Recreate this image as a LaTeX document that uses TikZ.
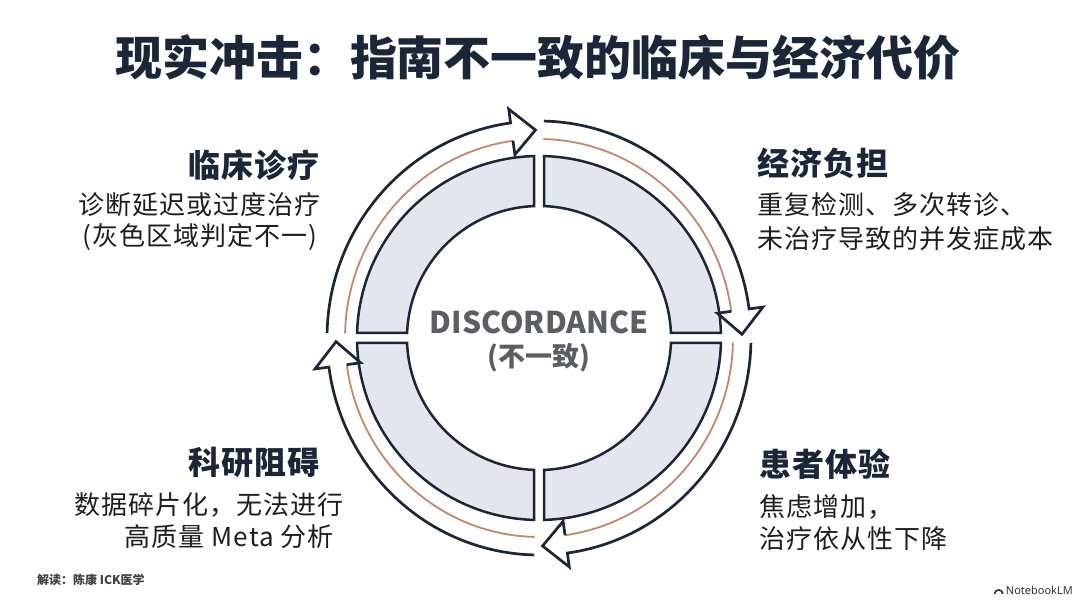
\documentclass[tikz,border=0pt]{standalone}
\usepackage{fontspec}
\usetikzlibrary{calc}
\newfontfamily\cjk{Noto Sans CJK SC}
\newfontfamily\cjksp[LetterSpace=4]{Noto Sans CJK SC}
\newfontfamily\cjkhd[LetterSpace=3]{Noto Sans CJK SC}
\newfontfamily\latinsans{Noto Sans}
\definecolor{navy}{HTML}{1B2638}
\definecolor{ringfill}{HTML}{E3E7ED}
\definecolor{copper}{HTML}{C4876B}
\definecolor{bodytext}{HTML}{1E1E1E}
\definecolor{centergray}{HTML}{5B5F63}
\tikzset{
  quad/.style={draw=navy, fill=ringfill, line width=2.5pt, line join=miter},
  shaftline/.style={draw=navy, line width=2.7pt, line join=miter, line cap=butt},
  copperline/.style={draw=copper, line width=1.8pt, line cap=butt},
  heading/.style={inner sep=0pt, text=navy, font=\cjkhd\bfseries\fontsize{32}{38}\selectfont},
  bodyline/.style={inner sep=0pt, text=bodytext, font=\cjksp\fontsize{26}{31}\selectfont},
  centertext/.style={inner sep=0pt, text=centergray, font=\cjk\bfseries\fontsize{30}{35}\selectfont},
}
\begin{document}
\begin{tikzpicture}[x=1pt,y=1pt]
\useasboundingbox (0,0) rectangle (1080,602);
\fill[white] (0,0) rectangle (1080,602);

% title
\node[inner sep=0pt, text=navy, font=\cjk\bfseries\fontsize{47}{56}\selectfont] (title) at (538,545) {现实冲击：指南不一致的临床与经济代价};

\begin{scope}[shift={(539,264)}]
  % quadrant segments
  \foreach \b in {0,90,180,270}{
    \draw[quad] ({\b+1.574}:182) arc[start angle={\b+1.574}, end angle={\b+88.426}, radius=182]
      -- ({\b+87.829}:132) arc[start angle={\b+87.829}, end angle={\b+2.171}, radius=132] -- cycle;
  }
  % circular arrows (clockwise)
  \foreach \A in {180,90,0,-90}{
    \pgfmathsetmacro\aS{\A-1.3}
    \pgfmathsetmacro\aT{\A-89}
    \pgfmathsetmacro\aB{\A-82.3}
    \draw[copperline] (\aS:194 and 199) arc[start angle=\aS, end angle=\aB, x radius=194, y radius=199];
    \draw[shaftline] (\aS:212 and 217) arc[start angle=\aS, end angle=\aB, x radius=212, y radius=217]
      -- (\aB:226 and 231) -- (\aT:203 and 208) -- (\aB:180 and 185) -- (\aB:194 and 199);
  }
\end{scope}

% center text
\node[centertext] (disc) at (539,280) {DISCORDANCE};
\node[inner sep=0pt, text=centergray, font=\cjk\bfseries\fontsize{27}{32}\selectfont] (disccn) at (539,244) {(不一致)};

% top-left
\node[heading, anchor=east] (tlh) at (320,437) {临床诊疗};
\node[bodyline, anchor=east] (tl1) at (321,397) {诊断延迟或过度治疗};
\node[bodyline, anchor=east] (tl2) at (318,365) {(灰色区域判定不一)};

% top-right
\node[heading, anchor=west] (trh) at (757,439) {经济负担};
\node[bodyline, anchor=west] (tr1) at (757,397) {重复检测、多次转诊、};
\node[bodyline, anchor=west] (tr2) at (757,363) {未治疗导致的并发症成本};

% bottom-left
\node[heading, anchor=east] (blh) at (320,140) {科研阻碍};
\node[bodyline, anchor=east] (bl1) at (344,97) {数据碎片化，无法进行};
\node[bodyline, anchor=east] (bl2) at (334,65) {高质量 Meta 分析};

% bottom-right
\node[heading, anchor=west] (brh) at (759,138) {患者体验};
\node[bodyline, anchor=west] (br1) at (759,95) {焦虑增加，};
\node[bodyline, anchor=west] (br2) at (759,63) {治疗依从性下降};

% footer
\node[inner sep=0pt, anchor=west, text=black!75, font=\cjk\bfseries\fontsize{12}{14}\selectfont] (credit) at (37,22) {解读：陈康 ICK医学};
\node[inner sep=0pt, anchor=east, text=black!80, font=\latinsans\fontsize{11}{13}\selectfont] (nblm) at (1073,12) {NotebookLM};
\fill[black!80] ($(nblm.west)+(-12,-4)$) arc[start angle=180, end angle=0, radius=5] -- ++(-1.8,0) arc[start angle=0, end angle=180, radius=3.2] -- cycle;
\end{tikzpicture}
\end{document}
